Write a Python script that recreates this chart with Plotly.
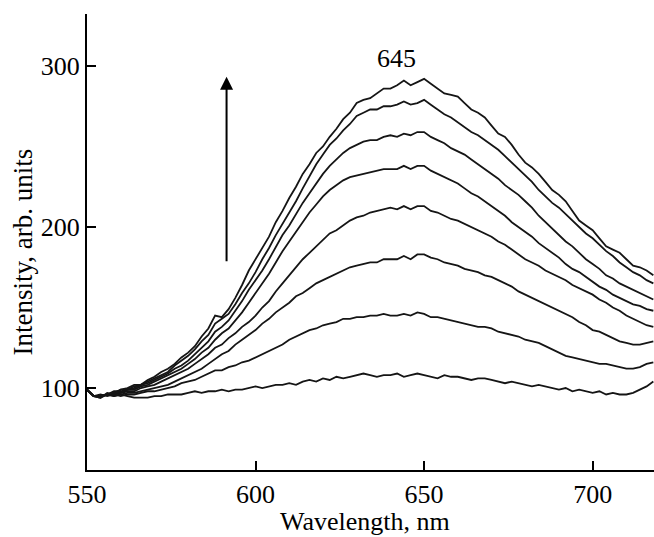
import plotly.graph_objects as go

wavelength = [550, 552, 554, 556, 558, 560, 562, 564, 566, 568,
              570, 572, 574, 576, 578, 580, 582, 584, 586, 588,
              590, 592, 594, 596, 598, 600, 602, 604, 606, 608,
              610, 612, 614, 616, 618, 620, 622, 624, 626, 628,
              630, 632, 634, 636, 638, 640, 642, 644, 646, 648,
              650, 652, 654, 656, 658, 660, 662, 664, 666, 668,
              670, 672, 674, 676, 678, 680, 682, 684, 686, 688,
              690, 692, 694, 696, 698, 700, 702, 704, 706, 708,
              710, 712, 714, 716, 718]

curve1 = [99, 95, 94, 96, 95, 96, 95, 94, 94, 94,
          95, 95, 96, 96, 96, 97, 98, 97, 98, 98,
          99, 98, 99, 99, 100, 101, 100, 101, 102, 102,
          103, 102, 104, 105, 104, 106, 105, 107, 106, 107,
          108, 109, 108, 107, 108, 108, 109, 107, 108, 109,
          108, 107, 106, 108, 107, 107, 106, 105, 106, 106,
          105, 104, 103, 104, 103, 102, 101, 102, 101, 100,
          99, 100, 98, 99, 98, 97, 98, 96, 97, 96,
          96, 97, 99, 101, 104]
curve2 = [99, 95, 96, 95, 96, 95, 96, 96, 97, 98,
          98, 99, 100, 101, 103, 104, 105, 107, 109, 111,
          111, 113, 114, 116, 117, 119, 121, 123, 125, 127,
          130, 132, 134, 136, 137, 139, 140, 141, 143, 143,
          144, 144, 145, 145, 146, 145, 145, 146, 145, 147,
          146, 144, 144, 143, 142, 141, 140, 139, 138, 138,
          137, 135, 134, 133, 132, 130, 129, 128, 126, 124,
          122, 120, 119, 118, 117, 116, 115, 115, 114, 113,
          112, 112, 113, 115, 116]
curve3 = [99, 95, 95, 96, 95, 96, 97, 97, 98, 99,
          100, 101, 102, 104, 106, 108, 110, 112, 115, 118,
          121, 123, 127, 130, 133, 136, 140, 143, 147, 150,
          153, 157, 159, 162, 165, 167, 169, 171, 173, 175,
          176, 177, 178, 178, 180, 180, 180, 182, 180, 183,
          183, 181, 180, 178, 177, 176, 174, 173, 172, 170,
          169, 167, 165, 163, 160, 158, 156, 154, 152, 150,
          148, 146, 144, 141, 139, 136, 135, 133, 131, 129,
          128, 127, 127, 128, 129]
curve4 = [99, 95, 95, 96, 96, 97, 98, 98, 100, 101,
          102, 104, 106, 108, 110, 112, 115, 118, 121, 125,
          127, 131, 134, 138, 141, 145, 150, 154, 160, 165,
          170, 175, 180, 184, 188, 192, 196, 198, 201, 204,
          206, 207, 209, 210, 211, 212, 211, 213, 211, 213,
          213, 210, 209, 207, 205, 204, 202, 200, 198, 196,
          194, 191, 189, 186, 183, 180, 178, 176, 173, 171,
          169, 167, 164, 162, 160, 158, 155, 153, 150, 148,
          145, 143, 141, 139, 138]
curve5 = [99, 95, 95, 96, 97, 97, 99, 99, 101, 102,
          104, 106, 108, 110, 112, 115, 118, 122, 125, 130,
          134, 137, 142, 147, 153, 159, 165, 171, 178, 185,
          191, 197, 203, 209, 214, 219, 223, 226, 229, 231,
          232, 233, 234, 235, 236, 236, 236, 238, 236, 238,
          238, 235, 233, 231, 229, 227, 224, 221, 219, 216,
          213, 210, 207, 203, 200, 197, 194, 190, 187, 184,
          181, 177, 174, 172, 169, 166, 163, 161, 158, 156,
          154, 152, 151, 149, 148]
curve6 = [99, 95, 95, 96, 98, 98, 99, 100, 102, 103,
          105, 107, 109, 112, 114, 117, 121, 125, 129, 135,
          138, 142, 148, 154, 161, 167, 173, 180, 188, 195,
          201, 208, 215, 221, 227, 233, 238, 242, 246, 249,
          251, 253, 254, 254, 256, 257, 256, 258, 257, 259,
          259, 256, 254, 252, 249, 247, 245, 242, 239, 236,
          233, 230, 226, 223, 220, 216, 212, 207, 203, 199,
          195, 191, 188, 184, 180, 177, 174, 170, 168, 165,
          163, 161, 159, 157, 155]
curve7 = [99, 95, 95, 96, 97, 99, 99, 101, 102, 104,
          106, 108, 110, 114, 117, 120, 124, 129, 133, 140,
          143, 146, 152, 159, 165, 172, 180, 187, 195, 202,
          209, 216, 224, 232, 239, 245, 251, 255, 260, 264,
          269, 271, 273, 273, 275, 275, 276, 278, 276, 277,
          279, 276, 273, 270, 268, 265, 262, 259, 257, 254,
          251, 248, 244, 240, 236, 232, 228, 223, 219, 215,
          212, 208, 204, 200, 196, 193, 189, 185, 182, 178,
          175, 172, 170, 167, 165]
curve8 = [99, 95, 94, 97, 96, 99, 100, 102, 102, 105,
          107, 110, 112, 115, 119, 122, 126, 132, 137, 145,
          144, 149, 156, 164, 173, 180, 187, 194, 203, 210,
          218, 225, 233, 239, 246, 250, 256, 261, 267, 271,
          277, 279, 280, 283, 286, 286, 288, 291, 288, 290,
          292, 289, 286, 283, 282, 281, 277, 273, 271, 268,
          263, 258, 256, 251, 245, 240, 237, 233, 228, 223,
          220, 216, 210, 204, 201, 198, 193, 188, 186, 184,
          180, 176, 175, 173, 170]

series = [curve1, curve2, curve3, curve4, curve5, curve6, curve7, curve8]

x_ticks = [550, 600, 650, 700]
y_ticks = [100, 200, 300]

peak_label = "645"
x_title = "Wavelength, nm"
y_title = "Intensity, arb. units"

FONT = "Liberation Serif"

fig = go.Figure()
for s in series:
    fig.add_trace(go.Scatter(x=wavelength, y=s, mode="lines",
                             line=dict(color="#151515", width=1.8),
                             showlegend=False, hoverinfo="skip"))

fig.update_layout(
    width=654, height=537,
    margin=dict(l=87, r=0, t=14, b=67, pad=0),
    paper_bgcolor="white", plot_bgcolor="white",
    font=dict(family=FONT, size=26, color="black"),
    xaxis=dict(range=[550, 718.2], tickvals=x_ticks, ticks="inside", ticklen=9,
               tickwidth=2, tickcolor="black", showline=True, linewidth=2,
               linecolor="black", showgrid=False, zeroline=False,
               tickfont=dict(family=FONT, size=26, color="black")),
    yaxis=dict(range=[49.1, 332.3], tickvals=y_ticks, ticks="inside", ticklen=9,
               tickwidth=2, tickcolor="black", showline=True, linewidth=2,
               linecolor="black", showgrid=False, zeroline=False,
               tickfont=dict(family=FONT, size=26, color="black")),
)

fig.add_annotation(x=641.7, y=304.8, xref="x", yref="y", text=peak_label,
                   showarrow=False, font=dict(family=FONT, size=26, color="black"))
fig.add_annotation(x=591.4, y=293.4, xref="x", yref="y", ax=591.4, ay=177.8,
                   axref="x", ayref="y", text="", showarrow=True,
                   arrowhead=2, arrowsize=1.3, arrowwidth=2, arrowcolor="black")
fig.add_annotation(x=-0.113, y=0.479, xref="paper", yref="paper", text=y_title,
                   textangle=-90, showarrow=False, xanchor="center", yanchor="middle",
                   font=dict(family=FONT, size=27, color="black"))
fig.add_annotation(x=0.491, y=-0.114, xref="paper", yref="paper", text=x_title,
                   showarrow=False, xanchor="center", yanchor="middle",
                   font=dict(family=FONT, size=26, color="black"))

fig.write_html("out.html")
